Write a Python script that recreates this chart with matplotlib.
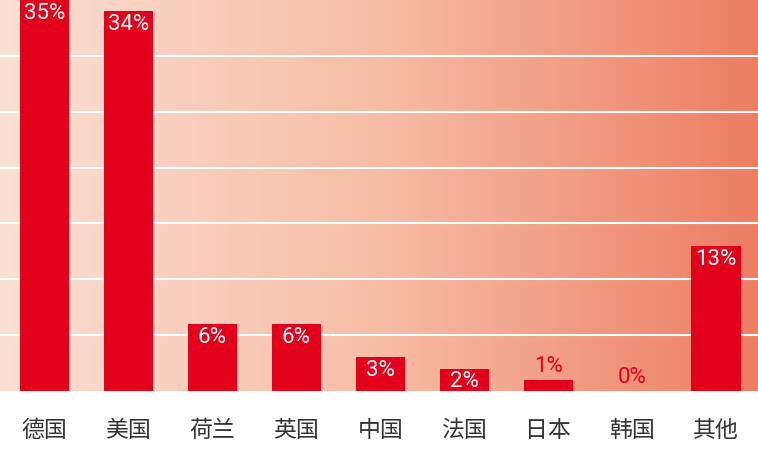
import numpy as np
import matplotlib.pyplot as plt
from matplotlib.colors import LinearSegmentedColormap

plt.rcParams['font.family'] = ['Noto Sans CJK SC', 'DejaVu Sans']

# data
countries = ['德国', '美国', '荷兰', '英国', '中国', '法国', '日本', '韩国', '其他']
shares = [35, 34, 6, 6, 3, 2, 1, 0, 13]
labels = ['35%', '34%', '6%', '6%', '3%', '2%', '1%', '0%', '13%']

bar_red = '#e2001a'

fig = plt.figure(figsize=(7.58, 4.61), dpi=100)
ax = fig.add_axes([0, 70 / 461, 1, 391 / 461])

x = np.arange(len(countries))
ax.set_xlim(-0.53, 8.5)
ax.set_ylim(0, 35)

# gradient background
cmap = LinearSegmentedColormap.from_list('bg', ['#fbe0d4', '#f6bda6', '#ec7d63'])
grad = np.linspace(0, 1, 256).reshape(1, -1)
ax.imshow(grad, cmap=cmap, aspect='auto', extent=(-0.53, 8.5, 0, 35),
          zorder=0, interpolation='bicubic')

# grid lines
for g in range(5, 35, 5):
    ax.axhline(g, color='white', lw=1.5, zorder=1)

ax.bar(x, shares, width=0.585, color=bar_red, zorder=2)

for xi, v, lab in zip(x, shares, labels):
    if v >= 2:
        ax.annotate(lab, (xi, v), xytext=(0, -2), textcoords='offset points',
                    ha='center', va='top', color='white', fontsize=16,
                    family='Roboto', zorder=3)
    else:
        ax.annotate(lab, (xi, v), xytext=(0, 2), textcoords='offset points',
                    ha='center', va='bottom', color=bar_red, fontsize=16,
                    family='Roboto', zorder=3)

ax.set_xticks(x)
ax.set_xticklabels(countries, fontsize=16.5, color='#333333', weight='light')
ax.tick_params(axis='x', length=0, pad=20)
ax.set_yticks([])
for s in ax.spines.values():
    s.set_visible(False)

fig.savefig('out.png', dpi=100)
